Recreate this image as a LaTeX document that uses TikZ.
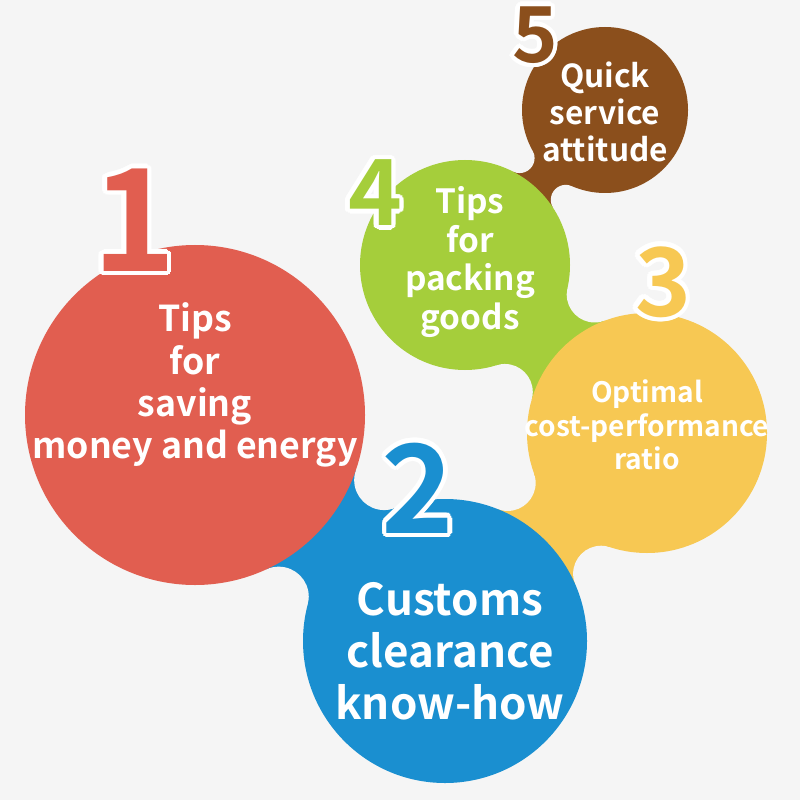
\documentclass[tikz,border=0pt]{standalone}
\usepackage{fontspec}
\setmainfont{Noto Sans CJK SC}[BoldFont={Noto Sans CJK SC Bold}]
\usepackage{contour}
\contourlength{2.5pt}
\usetikzlibrary{calc, intersections}
\definecolor{bgcol}{HTML}{F5F5F5}
\definecolor{redc}{HTML}{E15E50}
\definecolor{bluec}{HTML}{1A8FD0}
\definecolor{yellowc}{HTML}{F7C853}
\definecolor{greenc}{HTML}{A5CE3B}
\definecolor{brownc}{HTML}{8B4F1C}

\begin{document}
\begin{tikzpicture}[x=0.02cm, y=-0.02cm,
  bubble/.style={text=white, align=center},
  num/.style={inner sep=0pt}]
  \useasboundingbox (0,0) rectangle (800,800);
  \fill[bgcol] (0,0) rectangle (800,800);

  \coordinate (c1) at (195,415);
  \coordinate (c2) at (445,641);
  \coordinate (c3) at (647,433);
  \coordinate (c4) at (465,265);
  \coordinate (c5) at (605,110);

  % necks between the bubbles
  \foreach \a/\ra/\b/\rb/\f/\col in {c5/83/c4/105/15/brownc, c4/105/c3/120/28/greenc,
      c3/120/c2/142/28/yellowc, c2/142/c1/170/30/bluec} {
    \path[name path=pa] (\a) circle[radius=\ra+\f];
    \path[name path=pb] (\b) circle[radius=\rb+\f];
    \path[name intersections={of=pa and pb, by={f1,f2}}];
    \pgfmathsetmacro\ta{\ra/(\ra+\f)}
    \pgfmathsetmacro\tb{\rb/(\rb+\f)}
    \fill[\col] ($(\a)!\ta!(f1)$) -- ($(\b)!\tb!(f1)$) -- ($(\b)!\tb!(f2)$) -- ($(\a)!\ta!(f2)$) -- cycle;
    \fill[bgcol] (f1) circle[radius=\f] (f2) circle[radius=\f];
  }

  % bubbles
  \fill[brownc] (c5) circle[radius=83];
  \fill[yellowc] (c3) circle[radius=120];
  \fill[greenc] (c4) circle[radius=105];
  \fill[bluec] (c2) circle[radius=142];
  \fill[redc] (c1) circle[radius=170];

  % numbers
  \node[num, text=redc, font=\bfseries\fontsize{81}{81}\selectfont] (n1) at (134,222) {\contour{white}{1}};
  \node[num, text=bluec, font=\bfseries\fontsize{70}{70}\selectfont] (n2) at (418,490) {\contour{white}{2}};
  \node[num, text=yellowc, font=\bfseries\fontsize{54}{54}\selectfont] (n3) at (663,284) {\contour{white}{3}};
  \node[num, text=greenc, font=\bfseries\fontsize{52}{52}\selectfont] (n4) at (375,195) {\contour{white}{4}};
  \node[num, text=brownc, font=\bfseries\fontsize{44}{44}\selectfont] (n5) at (535,37) {\contour{white}{5}};

  % texts
  \node[bubble, font=\bfseries\fontsize{20.3}{24}\selectfont] (tips) at (195,385) {Tips\\for\\saving\\money and energy};
  \node[bubble, font=\bfseries\fontsize{25}{29.5}\selectfont] (customs) at (450,651) {Customs\\clearance\\know-how};
  \node[bubble, font=\bfseries\fontsize{16}{19}\selectfont] (ratio) at (647,425) {Optimal\\cost-performance\\ratio};
  \node[bubble, font=\bfseries\fontsize{19}{22}\selectfont] (packing) at (470,262) {Tips\\for\\packing\\goods};
  \node[bubble, font=\bfseries\fontsize{18}{21}\selectfont] (quick) at (605,112) {Quick\\service\\attitude};
\end{tikzpicture}
\end{document}
